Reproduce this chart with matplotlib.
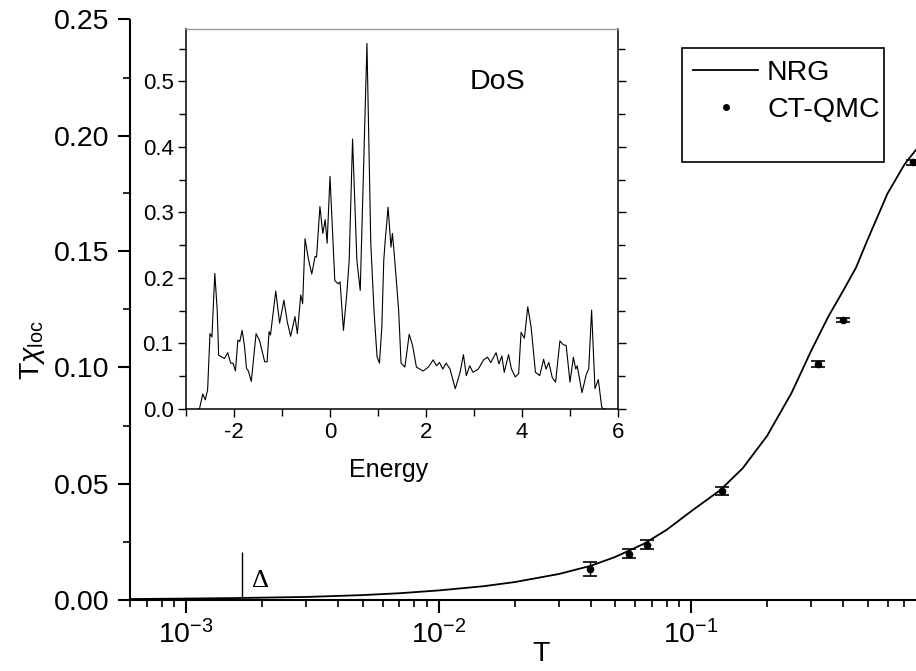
import numpy as np
import matplotlib.pyplot as plt
from matplotlib.patches import Rectangle
from matplotlib.ticker import MultipleLocator, LogLocator, NullFormatter

plt.rcParams['font.family'] = ['Liberation Sans', 'DejaVu Sans']
plt.rcParams['mathtext.fontset'] = 'custom'
plt.rcParams['mathtext.rm'] = 'Liberation Sans'
plt.rcParams['mathtext.it'] = 'Liberation Sans:italic'
plt.rcParams['mathtext.sf'] = 'Liberation Sans'
plt.rcParams['axes.unicode_minus'] = False

# NRG curve, T*chi_loc vs T
t_nrg = [6.0e-4, 1.0e-3, 1.5e-3, 2.0e-3, 3.0e-3, 5.0e-3, 7.0e-3, 0.01, 0.015, 0.02,
         0.03, 0.04, 0.05, 0.065, 0.08, 0.1, 0.13, 0.16, 0.2, 0.25, 0.3, 0.35,
         0.4, 0.45, 0.5, 0.6, 0.7, 0.78]
chi_nrg = [0.0002, 0.0004, 0.0006, 0.0008, 0.0011, 0.0019, 0.0027, 0.0039, 0.0057, 0.0075,
           0.0110, 0.0145, 0.0183, 0.0240, 0.0300, 0.0380, 0.0470, 0.0565, 0.0705, 0.0890,
           0.1075, 0.1220, 0.1330, 0.1430, 0.1550, 0.1750, 0.1875, 0.1940]

# CT-QMC points
t_qmc = [0.0399, 0.057, 0.0667, 0.133, 0.319, 0.40, 0.757]
chi_qmc = [0.0132, 0.0197, 0.0237, 0.0467, 0.1016, 0.1205, 0.1885]
err_qmc = [0.0029, 0.0019, 0.002, 0.0018, 0.0014, 0.001, 0.001]

t_delta = 0.00166

# inset: density of states
energy = [-2.75, -2.72, -2.65, -2.60, -2.55, -2.50, -2.46, -2.40, -2.35, -2.32, -2.27,
          -2.20, -2.13, -2.07, -2.02, -1.97, -1.92, -1.88, -1.83, -1.78, -1.74, -1.70,
          -1.64, -1.54, -1.47, -1.36, -1.31, -1.27, -1.24, -1.13, -1.05, -0.96, -0.89,
          -0.82, -0.73, -0.68, -0.61, -0.57, -0.52, -0.45, -0.38, -0.31, -0.28, -0.21,
          -0.15, -0.10, -0.06, 0.0, 0.10, 0.17, 0.21, 0.28, 0.35, 0.40, 0.47, 0.56,
          0.63, 0.77, 0.85, 0.92, 0.98, 1.03, 1.08, 1.12, 1.15, 1.21, 1.27, 1.30, 1.34,
          1.43, 1.48, 1.56, 1.65, 1.72, 1.80, 1.94, 2.05, 2.15, 2.22, 2.28, 2.35, 2.42,
          2.50, 2.61, 2.71, 2.78, 2.84, 2.91, 2.98, 3.09, 3.20, 3.28, 3.35, 3.46, 3.52,
          3.58, 3.63, 3.72, 3.78, 3.86, 3.93, 3.98, 4.05, 4.12, 4.19, 4.28, 4.37, 4.45,
          4.50, 4.56, 4.63, 4.70, 4.79, 4.86, 4.92, 5.00, 5.07, 5.12, 5.15, 5.25, 5.34,
          5.39, 5.45, 5.52, 5.59, 5.66, 5.69, 5.74]
dos = [0.0, 0.0, 0.023, 0.014, 0.029, 0.115, 0.11, 0.207, 0.151, 0.082, 0.08,
       0.077, 0.086, 0.07, 0.07, 0.058, 0.105, 0.103, 0.12, 0.095, 0.062, 0.058,
       0.042, 0.115, 0.105, 0.072, 0.072, 0.118, 0.113, 0.180, 0.131, 0.166, 0.133,
       0.111, 0.141, 0.115, 0.174, 0.161, 0.260, 0.229, 0.206, 0.233, 0.232, 0.309,
       0.268, 0.289, 0.253, 0.355, 0.196, 0.191, 0.194, 0.120, 0.176, 0.227, 0.412, 0.227,
       0.181, 0.558, 0.252, 0.146, 0.080, 0.070, 0.125, 0.227, 0.257, 0.308, 0.247, 0.268, 0.235,
       0.151, 0.070, 0.064, 0.114, 0.097, 0.064, 0.058, 0.064, 0.075, 0.066, 0.071, 0.061, 0.070,
       0.061, 0.031, 0.056, 0.083, 0.051, 0.066, 0.056, 0.061, 0.075, 0.079, 0.071, 0.086, 0.069,
       0.081, 0.056, 0.083, 0.061, 0.049, 0.054, 0.117, 0.108, 0.156, 0.125, 0.056, 0.051, 0.076,
       0.061, 0.071, 0.048, 0.041, 0.104, 0.098, 0.097, 0.041, 0.079, 0.061, 0.066, 0.025, 0.053,
       0.061, 0.151, 0.031, 0.045, 0.003, 0.0, 0.0]

fig = plt.figure(figsize=(9.16, 6.71), dpi=100)
ax = fig.add_axes([130/916, (671-599.5)/671, 786/916, 580/671])

nrg_line, = ax.plot(t_nrg, chi_nrg, color='black', lw=1.3)
ax.errorbar(t_qmc, chi_qmc, yerr=err_qmc, fmt='o', ms=4.5, color='black',
            capsize=5, elinewidth=1, capthick=1.2)
ax.vlines(t_delta, 0, 0.0204, color='black', lw=1)
ax.text(0.00182, 0.0055, '\u0394', family='Liberation Serif', fontsize=19,
        ha='left', va='baseline')

ax.set_xscale('log')
ax.set_xlim(6.0e-4, 0.778)
ax.set_ylim(0, 0.25)
ax.xaxis.set_major_locator(LogLocator(base=10, numticks=10))
ax.xaxis.set_minor_locator(LogLocator(base=10, subs=np.arange(2, 10), numticks=20))
ax.xaxis.set_minor_formatter(NullFormatter())
ax.yaxis.set_major_locator(MultipleLocator(0.05))
ax.yaxis.set_minor_locator(MultipleLocator(0.025))
ax.yaxis.set_major_formatter(plt.FormatStrFormatter('%.2f'))
for s in ['top', 'right']:
    ax.spines[s].set_visible(False)
for s in ['left', 'bottom']:
    ax.spines[s].set_linewidth(1.5)
ax.tick_params(which='major', direction='out', length=9, width=1.5, labelsize=20.5, pad=6)
ax.tick_params(which='minor', direction='out', length=5, width=1.2)
ax.set_xlabel('T', fontsize=20.5)
ax.xaxis.set_label_coords(0.523, -0.072)
ax.set_ylabel(r'T$\chi_{\mathrm{loc}}$', fontsize=20.5)
ax.yaxis.set_label_coords(-0.105, 0.43)

dot, = ax.plot([], [], 'o', ms=4, color='black', ls='none')
ax.legend([nrg_line, dot], ['NRG', 'CT-QMC'], loc='upper left',
          bbox_to_anchor=(693/916, (671-60)/671), bbox_transform=fig.transFigure,
          frameon=False, fontsize=20.5, handlelength=2.3, handletextpad=0.3,
          borderpad=0, labelspacing=0.4, borderaxespad=0)
fig.patches.append(Rectangle((681.7/916, (671-162.3)/671), 202.3/916, 114.6/671,
                             transform=fig.transFigure, fill=False,
                             edgecolor='black', lw=1.2))

# inset
ins = fig.add_axes([186/916, (671-409)/671, 432/916, 380/671])
ins.plot(energy, dos, color='black', lw=0.8)
ins.set_xlim(-3, 6)
ins.set_ylim(0, 0.58)
ins.xaxis.set_major_locator(MultipleLocator(2))
ins.xaxis.set_minor_locator(MultipleLocator(1))
ins.yaxis.set_major_locator(MultipleLocator(0.1))
ins.yaxis.set_minor_locator(MultipleLocator(0.05))
ins.yaxis.set_major_formatter(plt.FormatStrFormatter('%.1f'))
for s in ['left', 'bottom', 'right']:
    ins.spines[s].set_linewidth(1.1)
ins.spines['top'].set_color('#999999')
ins.spines['top'].set_linewidth(1.0)
ins.tick_params(which='both', direction='out', right=True, labelsize=16, width=1, pad=3)
ins.tick_params(which='major', length=6)
ins.tick_params(which='minor', length=5)
ins.set_xlabel('Energy', fontsize=18)
ins.xaxis.set_label_coords(0.47, -0.13)
ins.text(0.72, 0.86, 'DoS', transform=ins.transAxes, fontsize=20.5, ha='center', va='center')

fig.savefig('out.png', dpi=100)
